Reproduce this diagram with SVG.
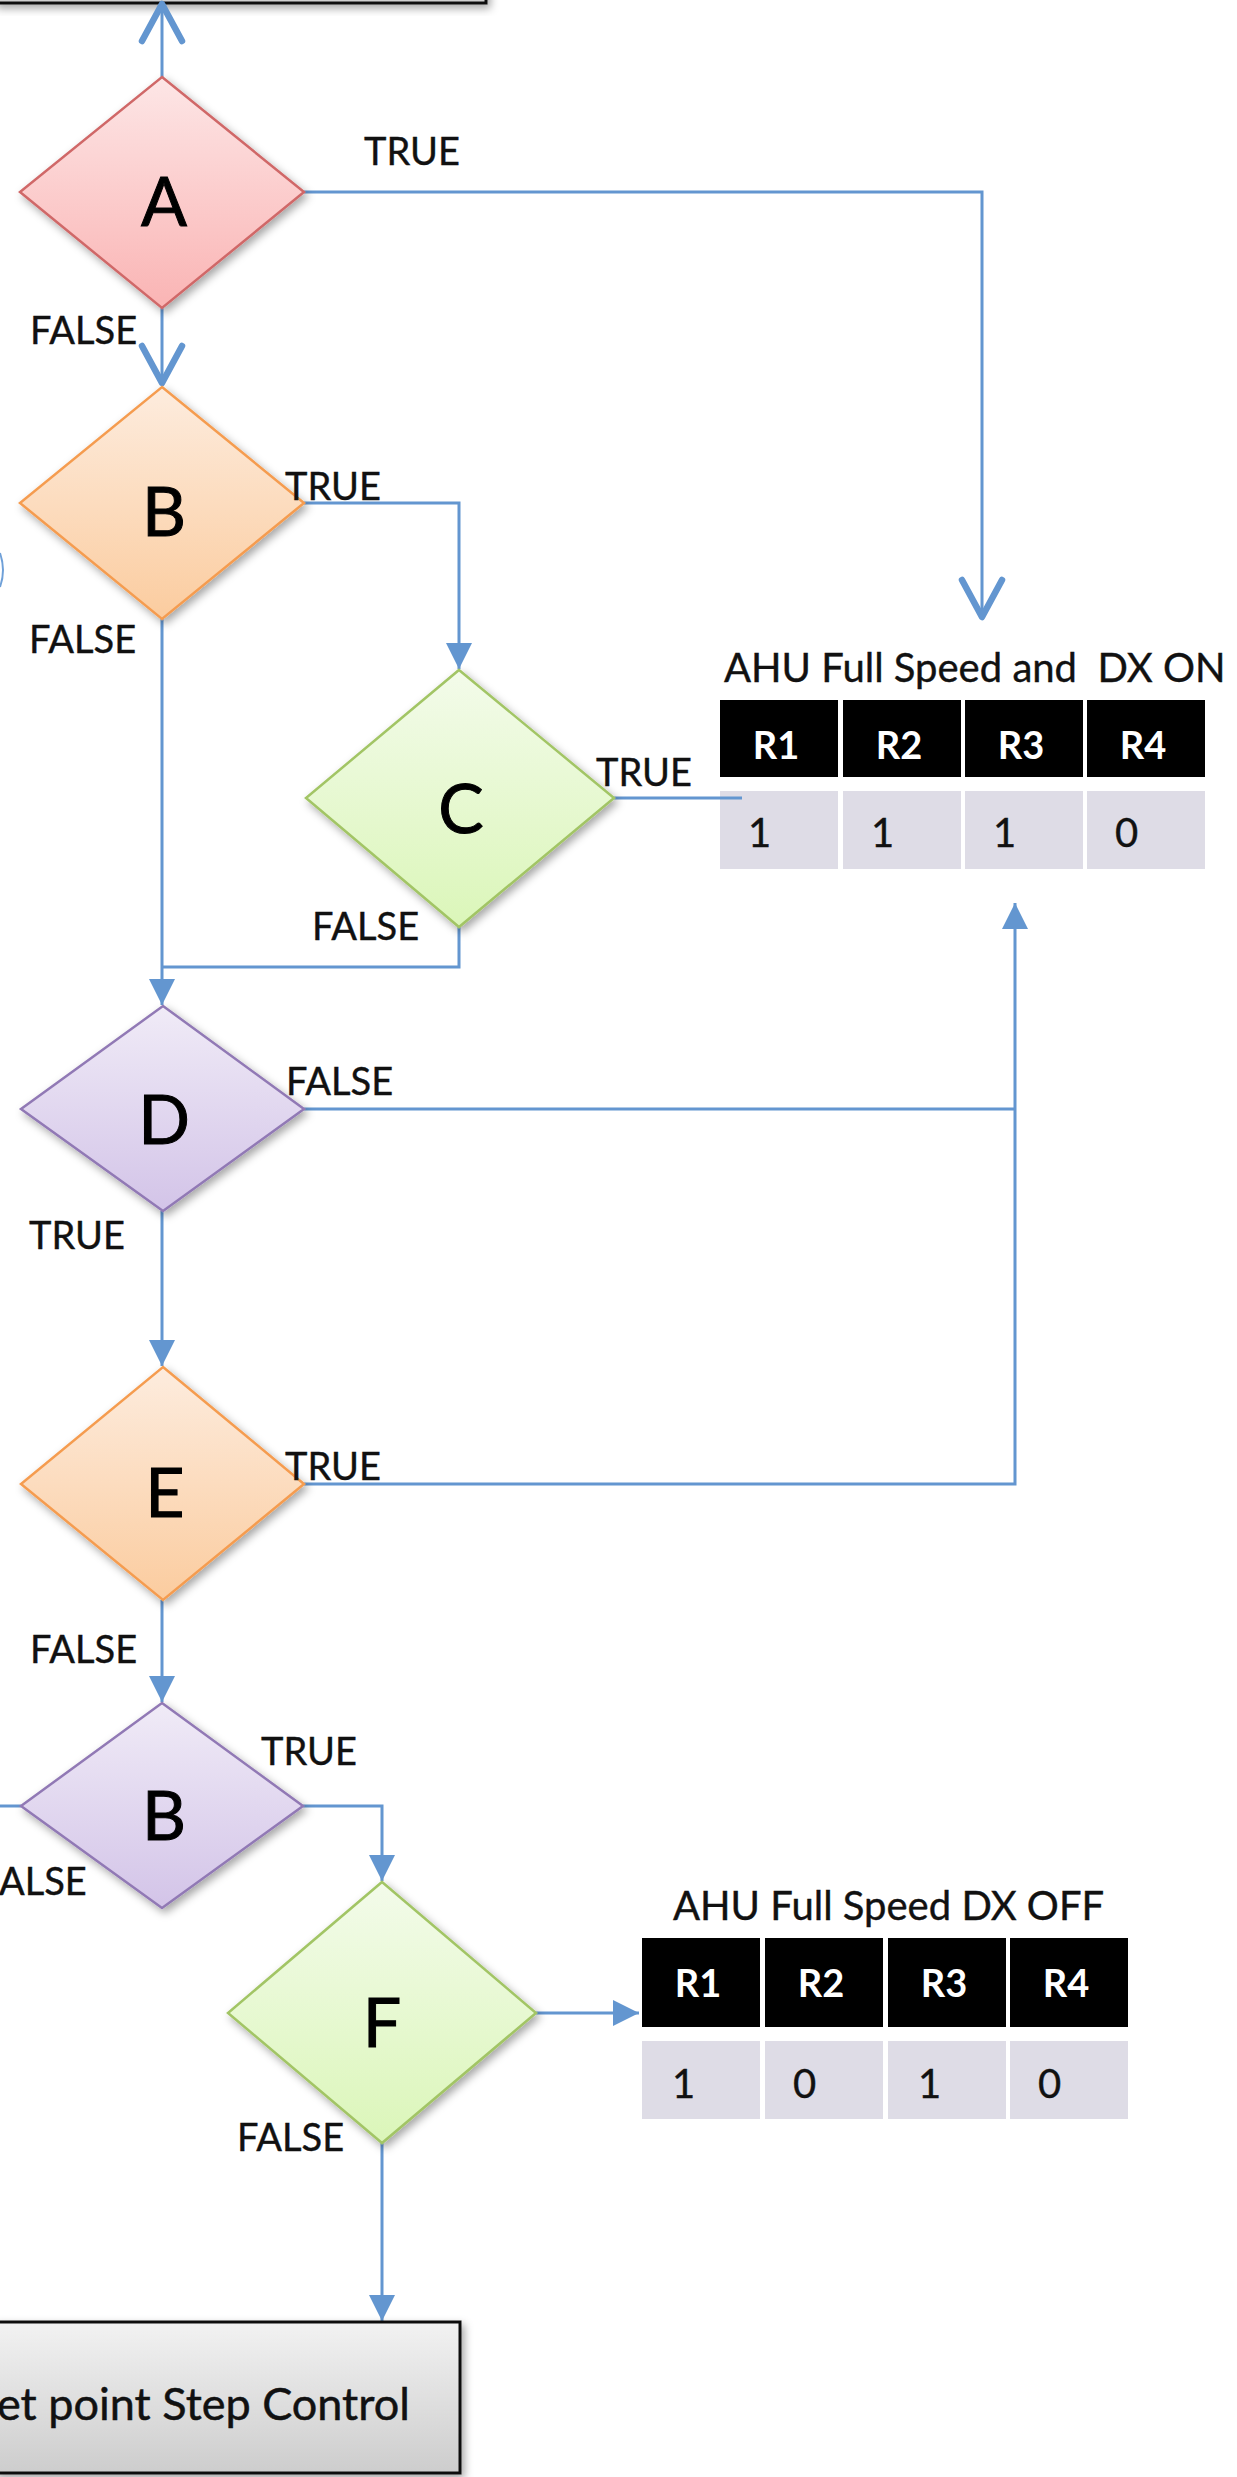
<svg xmlns="http://www.w3.org/2000/svg" width="1237" height="2477" viewBox="0 0 1237 2477">
<style>
.lbl{font-family:Lato,"Liberation Sans",sans-serif;font-size:38px;fill:#111;stroke:#111;stroke-width:0.4}
.big{font-family:Lato,"Liberation Sans",sans-serif;font-size:68px;fill:#000;stroke:#000;stroke-width:1;text-anchor:middle}
.ttl{font-family:Lato,"Liberation Sans",sans-serif;font-size:40px;fill:#111;stroke:#111;stroke-width:0.4}
.hd{font-family:Lato,"Liberation Sans",sans-serif;font-size:38px;font-weight:bold;fill:#fff;text-anchor:middle}
.val{font-family:Lato,"Liberation Sans",sans-serif;font-size:40px;fill:#111;stroke:#111;stroke-width:0.4}
.hcell{fill:#000}
.dcell{fill:#dedce6}
.con{fill:none;stroke:#6396d0;stroke-width:3}
.box{stroke:#111;stroke-width:3;fill:url(#gBox)}
</style>
<defs>
<linearGradient id="gA" x1="0" y1="0" x2="0" y2="1"><stop offset="0" stop-color="#fde6e6"/><stop offset="1" stop-color="#fab4b4"/></linearGradient>
<linearGradient id="gO" x1="0" y1="0" x2="0" y2="1"><stop offset="0" stop-color="#fdecde"/><stop offset="1" stop-color="#fbcc9f"/></linearGradient>
<linearGradient id="gG" x1="0" y1="0" x2="0" y2="1"><stop offset="0" stop-color="#f3fbea"/><stop offset="1" stop-color="#dbf6b9"/></linearGradient>
<linearGradient id="gP" x1="0" y1="0" x2="0" y2="1"><stop offset="0" stop-color="#f0ebf7"/><stop offset="1" stop-color="#d3c4e8"/></linearGradient>
<linearGradient id="gBox" x1="0" y1="0" x2="0" y2="1"><stop offset="0" stop-color="#f2f2f2"/><stop offset="1" stop-color="#cdcdcd"/></linearGradient>
<filter id="sh" x="-20%" y="-20%" width="140%" height="140%"><feDropShadow dx="3" dy="4" stdDeviation="4" flood-color="#000" flood-opacity="0.35"/></filter>
<marker id="tri" markerUnits="userSpaceOnUse" markerWidth="26" markerHeight="26" viewBox="0 0 26 26" refX="26" refY="13" orient="auto"><path d="M0,0 L26,13 L0,26 z" fill="#6396d0"/></marker>
<marker id="chev" markerUnits="userSpaceOnUse" markerWidth="50" markerHeight="54" viewBox="-6 -7 50 54" refX="37" refY="20" orient="auto"><path d="M0,0 L37,20 L0,40" fill="none" stroke="#6396d0" stroke-width="6.5" stroke-linecap="round" stroke-linejoin="round"/></marker>
</defs>

<g id="top-box"><rect class="box" x="-5" y="-60" width="491" height="63" filter="url(#sh)"/></g>

<g id="table1">
<text class="ttl" x="724" y="682" xml:space="preserve">AHU Full Speed and  DX ON</text>
<rect class="hcell" x="720" y="700" width="118" height="77"/>
<rect class="hcell" x="843" y="700" width="118" height="77"/>
<rect class="hcell" x="965" y="700" width="118" height="77"/>
<rect class="hcell" x="1087" y="700" width="118" height="77"/>
<text class="hd" x="776" y="759">R1</text>
<text class="hd" x="899" y="759">R2</text>
<text class="hd" x="1021" y="759">R3</text>
<text class="hd" x="1143" y="759">R4</text>
<rect class="dcell" x="720" y="791" width="118" height="78"/>
<rect class="dcell" x="843" y="791" width="118" height="78"/>
<rect class="dcell" x="965" y="791" width="118" height="78"/>
<rect class="dcell" x="1087" y="791" width="118" height="78"/>
<text class="val" x="748" y="847">1</text>
<text class="val" x="871" y="847">1</text>
<text class="val" x="993" y="847">1</text>
<text class="val" x="1115" y="847">0</text>
</g>

<g id="table2">
<text class="ttl" x="673" y="1920">AHU Full Speed DX OFF</text>
<rect class="hcell" x="642" y="1938" width="118" height="89"/>
<rect class="hcell" x="765" y="1938" width="118" height="89"/>
<rect class="hcell" x="888" y="1938" width="118" height="89"/>
<rect class="hcell" x="1010" y="1938" width="118" height="89"/>
<text class="hd" x="698" y="1997">R1</text>
<text class="hd" x="821" y="1997">R2</text>
<text class="hd" x="944" y="1997">R3</text>
<text class="hd" x="1066" y="1997">R4</text>
<rect class="dcell" x="642" y="2041" width="118" height="78"/>
<rect class="dcell" x="765" y="2041" width="118" height="78"/>
<rect class="dcell" x="888" y="2041" width="118" height="78"/>
<rect class="dcell" x="1010" y="2041" width="118" height="78"/>
<text class="val" x="672" y="2098">1</text>
<text class="val" x="793" y="2098">0</text>
<text class="val" x="918" y="2098">1</text>
<text class="val" x="1038" y="2098">0</text>
</g>

<g id="connectors">
<path class="con" d="M162,77 L162,4" marker-end="url(#chev)"/>
<path class="con" d="M304,192 L982,192 L982,617" marker-end="url(#chev)"/>
<path class="con" d="M162,308 L162,383" marker-end="url(#chev)"/>
<path class="con" d="M304,503 L459,503 L459,669" marker-end="url(#tri)"/>
<path class="con" d="M162,619 L162,1005" marker-end="url(#tri)"/>
<path class="con" d="M614,798 L742,798"/>
<path class="con" d="M459,927 L459,967 L162,967"/>
<path class="con" d="M304,1109 L1015,1109"/>
<path class="con" d="M304,1484 L1015,1484 L1015,903" marker-end="url(#tri)"/>
<path class="con" d="M162,1211 L162,1366" marker-end="url(#tri)"/>
<path class="con" d="M162,1600 L162,1702" marker-end="url(#tri)"/>
<path class="con" d="M0,1806 L21,1806"/>
<path class="con" d="M303,1806 L382,1806 L382,1881" marker-end="url(#tri)"/>
<path class="con" d="M536,2013 L639,2013" marker-end="url(#tri)"/>
<path class="con" d="M382,2143 L382,2321" marker-end="url(#tri)"/>
<path d="M0,553 Q6,570 0,587" fill="none" stroke="#6fa0d8" stroke-width="2"/>
</g>

<g id="node-A">
<polygon points="162,77 304,192 162,308 20,192" fill="url(#gA)" stroke="#d06868" stroke-width="2.5" filter="url(#sh)"/>
<text class="big" x="164" y="226">A</text>
</g>
<g id="node-B">
<polygon points="162,387 304,503 162,619 20,503" fill="url(#gO)" stroke="#f59c50" stroke-width="2.5" filter="url(#sh)"/>
<text class="big" x="164" y="536">B</text>
</g>
<g id="node-C">
<polygon points="459,670 614,798 459,927 306,798" fill="url(#gG)" stroke="#a2c565" stroke-width="2.5" filter="url(#sh)"/>
<text class="big" x="461" y="833">C</text>
</g>
<g id="node-D">
<polygon points="163,1006 304,1109 163,1211 21,1109" fill="url(#gP)" stroke="#9179b5" stroke-width="2.5" filter="url(#sh)"/>
<text class="big" x="164" y="1144">D</text>
</g>
<g id="node-E">
<polygon points="163,1367 304,1484 163,1600 21,1484" fill="url(#gO)" stroke="#f59c50" stroke-width="2.5" filter="url(#sh)"/>
<text class="big" x="165" y="1517">E</text>
</g>
<g id="node-B2">
<polygon points="162,1703 303,1806 162,1908 21,1806" fill="url(#gP)" stroke="#9179b5" stroke-width="2.5" filter="url(#sh)"/>
<text class="big" x="164" y="1840">B</text>
</g>
<g id="node-F">
<polygon points="382,1882 536,2013 382,2143 228,2013" fill="url(#gG)" stroke="#a2c565" stroke-width="2.5" filter="url(#sh)"/>
<text class="big" x="382" y="2047">F</text>
</g>

<g id="bottom-box">
<rect class="box" x="-5" y="2322" width="465" height="151" filter="url(#sh)"/>
<text x="-3" y="2420" style="font-family:Lato,'Liberation Sans',sans-serif;font-size:45px;fill:#111;stroke:#111;stroke-width:0.5">et point Step Control</text>
</g>

<g id="labels">
<text class="lbl" x="364" y="165">TRUE</text>
<text class="lbl" x="30" y="344">FALSE</text>
<text class="lbl" x="285" y="500">TRUE</text>
<text class="lbl" x="29" y="653">FALSE</text>
<text class="lbl" x="596" y="786">TRUE</text>
<text class="lbl" x="312" y="940">FALSE</text>
<text class="lbl" x="286" y="1095">FALSE</text>
<text class="lbl" x="29" y="1249">TRUE</text>
<text class="lbl" x="285" y="1480">TRUE</text>
<text class="lbl" x="30" y="1663">FALSE</text>
<text class="lbl" x="261" y="1765">TRUE</text>
<text class="lbl" x="-1" y="1895">ALSE</text>
<text class="lbl" x="237" y="2151">FALSE</text>
</g>
</svg>
